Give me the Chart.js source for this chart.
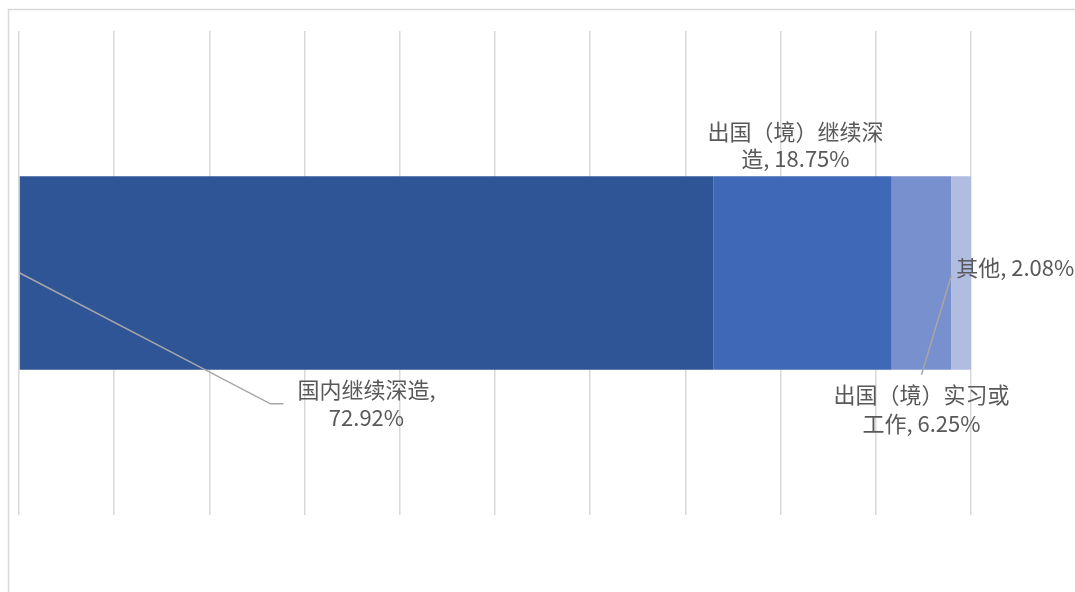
<!DOCTYPE html>
<html>
<head>
<meta charset="utf-8">
<script src="https://cdn.jsdelivr.net/npm/chart.js@4"></script>
<style>
  html, body { margin: 0; padding: 0; background: #fff; }
  #wrap { width: 1075px; height: 592px; position: relative; }
</style>
</head>
<body>
<div id="wrap"><canvas id="chart"></canvas></div>
<script>
// chart data
const categories = ['毕业去向'];
const seriesNames = ['国内继续深造', '出国（境）继续深造', '出国（境）实习或工作', '其他'];
const seriesValues = [72.92, 18.75, 6.25, 2.08];
const seriesColors = ['#305597', '#3f69b6', '#7890cd', '#b0bde0'];
// how each data label breaks into lines
const labelLines = [
  ['国内继续深造,', '72.92%'],
  ['出国（境）继续深', '造, 18.75%'],
  ['出国（境）实习或', '工作, 6.25%'],
  ['其他, 2.08%']
];
const xTicks = [0, 10, 20, 30, 40, 50, 60, 70, 80, 90, 100];

const FONT = '22px "Noto Sans CJK SC", "Noto Sans", sans-serif';

// outer frame like the office chart area
const framePlugin = {
  id: 'frame',
  beforeDraw(chart) {
    const ctx = chart.ctx;
    ctx.save();
    ctx.strokeStyle = '#d9d9d9';
    ctx.lineWidth = 1.5;
    ctx.strokeRect(8.5, 9.5, 1200, 700);
    ctx.restore();
  }
};

// data labels + leader lines, placed from the bar elements
const labelPlugin = {
  id: 'labels',
  afterDatasetsDraw(chart) {
    const ctx = chart.ctx;
    const bars = chart.data.datasets.map((d, i) => chart.getDatasetMeta(i).data[0]);
    const seg = bars.map(b => {
      const p = b.getProps(['x', 'y', 'base', 'height'], true);
      return { left: p.base, right: p.x, cx: (p.base + p.x) / 2, top: p.y - p.height / 2, bottom: p.y + p.height / 2, cy: p.y };
    });
    ctx.save();
    ctx.font = FONT;
    ctx.fillStyle = '#595959';
    ctx.textBaseline = 'middle';

    // leader lines
    ctx.strokeStyle = '#a6a6a6';
    ctx.lineWidth = 1.5;
    ctx.beginPath();
    ctx.moveTo(seg[0].left, seg[0].cy);
    ctx.lineTo(seg[0].cx - 96, seg[0].bottom + 34);
    ctx.lineTo(seg[0].cx - 83, seg[0].bottom + 34);
    ctx.stroke();
    ctx.beginPath();
    ctx.moveTo(seg[2].right, seg[2].cy + 3);
    ctx.lineTo(seg[2].cx, seg[2].bottom + 5);
    ctx.stroke();

    // label 0: below segment
    ctx.textAlign = 'center';
    ctx.fillText(labelLines[0][0], seg[0].cx, seg[0].bottom + 20);
    ctx.fillText(labelLines[0][1], seg[0].cx, seg[0].bottom + 48);
    // label 1: above segment
    ctx.fillText(labelLines[1][0], seg[1].cx - 7, seg[1].top - 45);
    ctx.fillText(labelLines[1][1], seg[1].cx - 7, seg[1].top - 18);
    // label 2: below segment
    ctx.fillText(labelLines[2][0], seg[2].cx, seg[2].bottom + 25);
    ctx.fillText(labelLines[2][1], seg[2].cx, seg[2].bottom + 54);
    // label 3: right of segment
    ctx.textAlign = 'left';
    ctx.fillText(labelLines[3][0], seg[3].left + 5, seg[3].cy - 5);
    ctx.restore();
  }
};

const ctx = document.getElementById('chart').getContext('2d');
const chart = new Chart(ctx, {
  type: 'bar',
  data: {
    labels: categories,
    datasets: seriesNames.map((name, i) => ({
      label: name,
      data: [seriesValues[i]],
      backgroundColor: seriesColors[i],
      borderWidth: 0,
      categoryPercentage: 1,
      barPercentage: 0.4
    }))
  },
  options: {
    indexAxis: 'y',
    responsive: true,
    maintainAspectRatio: false,
    animation: false,
    layout: { padding: { left: 19, top: 31, right: 104, bottom: 77 } },
    scales: {
      x: {
        stacked: true,
        min: 0,
        max: 100,
        afterBuildTicks: axis => { axis.ticks = xTicks.map(v => ({ value: v })); },
        ticks: { display: false },
        grid: { color: '#d9d9d9', lineWidth: 1.5, drawTicks: false },
        border: { display: false }
      },
      y: {
        stacked: true,
        display: false
      }
    },
    plugins: {
      legend: { display: false },
      tooltip: { enabled: false }
    }
  },
  plugins: [framePlugin, labelPlugin]
});
</script>
</body>
</html>
